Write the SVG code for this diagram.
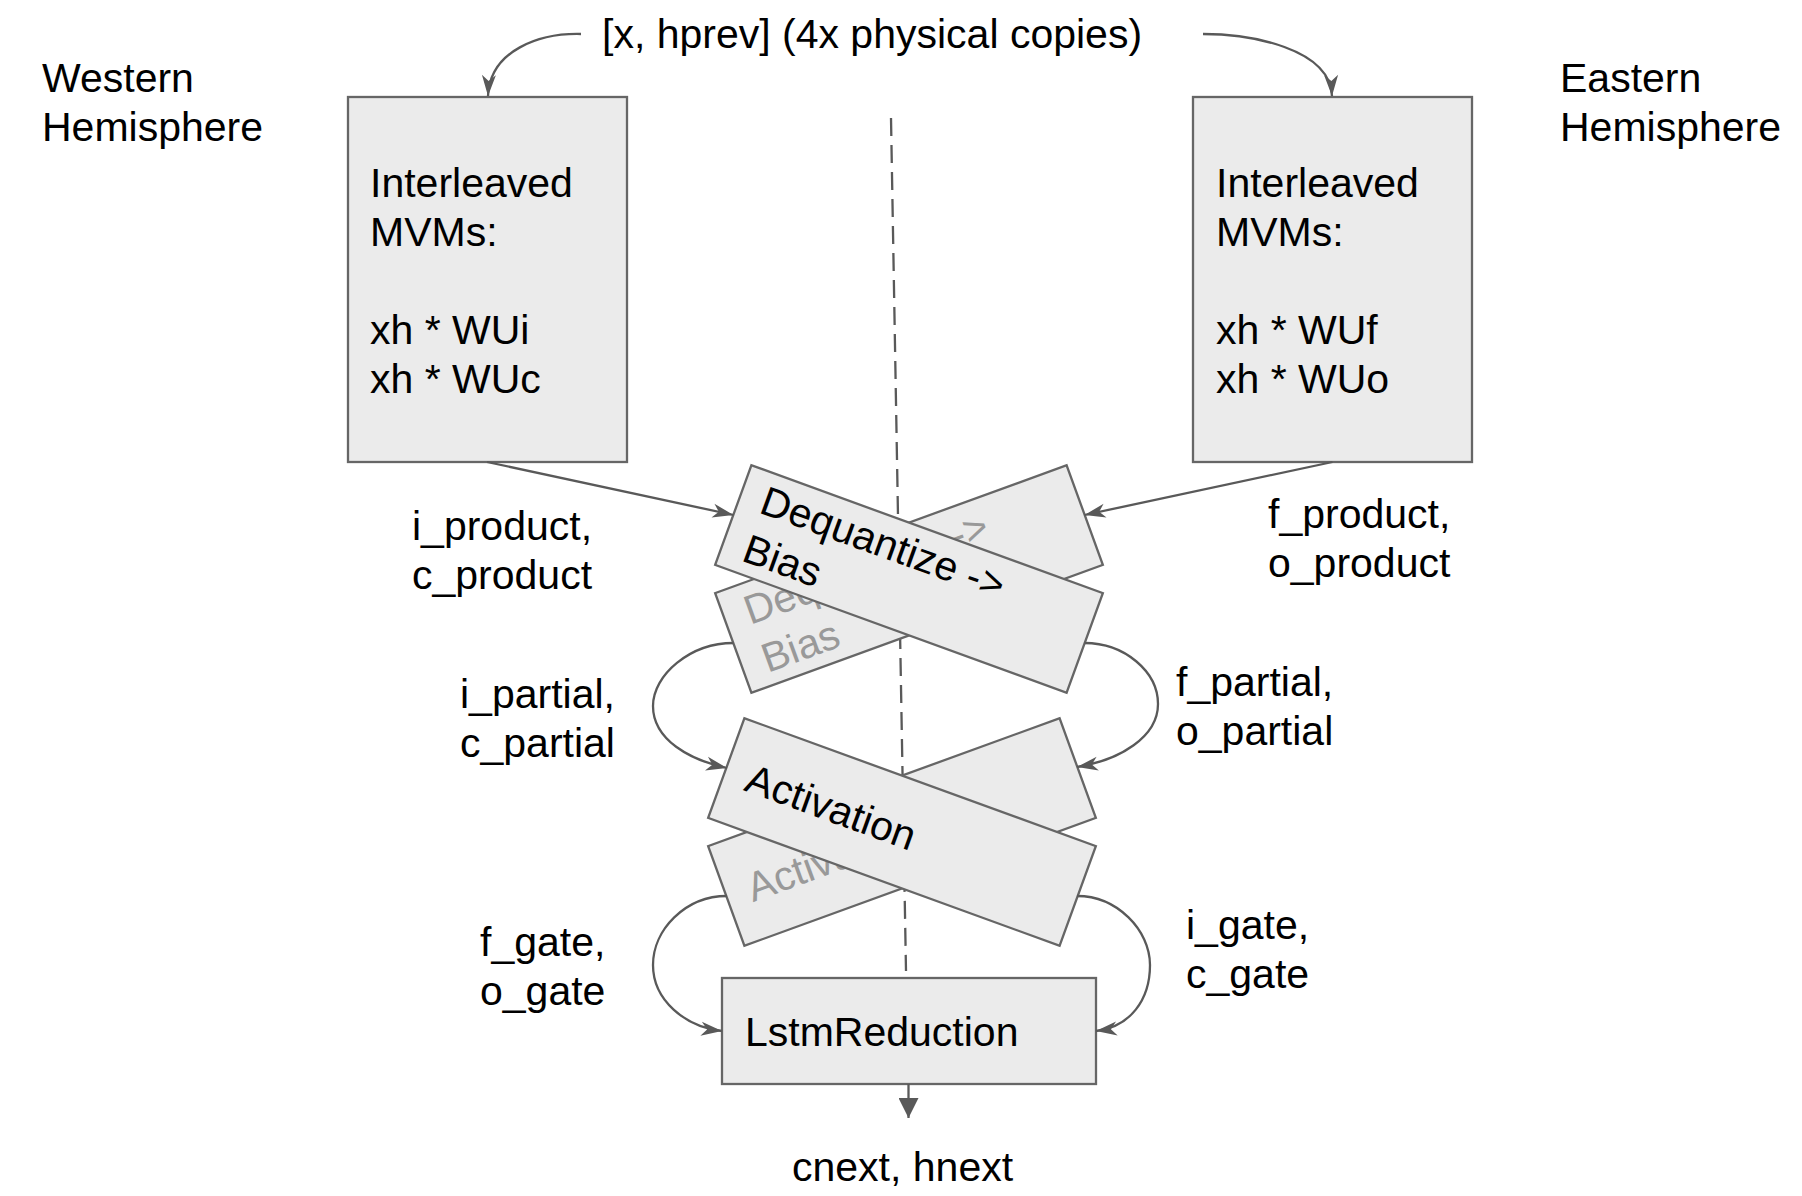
<svg xmlns="http://www.w3.org/2000/svg" width="1802" height="1196" viewBox="0 0 1802 1196">
<style>
text { font-family: "Liberation Sans", Arial, sans-serif; font-size: 41px; fill: #000; }
.box { fill: #ebebeb; stroke: #666666; stroke-width: 2.3; }
.ghost { fill: #999999; }
.conn { fill: none; stroke: #595959; stroke-width: 2.3; }
.dash { fill: none; stroke: #595959; stroke-width: 2.3; stroke-dasharray: 18 9; }
</style>
<defs>
<marker id="arr" markerWidth="24" markerHeight="18" refX="22" refY="9" orient="auto" markerUnits="userSpaceOnUse">
<path d="M1,2 L22,9 L1,16 L7,9 Z" fill="#595959"/>
</marker>
<marker id="tri" markerWidth="20" markerHeight="20" refX="20" refY="10" orient="auto" markerUnits="userSpaceOnUse">
<path d="M0,0 L20,10 L0,20 Z" fill="#595959"/>
</marker>
</defs>
<rect width="1802" height="1196" fill="#ffffff"/>

<g id="divider">
<line class="dash" x1="891" y1="118" x2="906" y2="971"/>
</g>

<g id="labels">
<text x="602" y="48">[x, hprev] (4x physical copies)</text>
<text x="42" y="92">Western</text>
<text x="42" y="141">Hemisphere</text>
<text x="1560" y="92">Eastern</text>
<text x="1560" y="141">Hemisphere</text>
<text x="412" y="540">i_product,</text>
<text x="412" y="589">c_product</text>
<text x="1268" y="528">f_product,</text>
<text x="1268" y="577">o_product</text>
<text x="460" y="708">i_partial,</text>
<text x="460" y="757">c_partial</text>
<text x="1176" y="696">f_partial,</text>
<text x="1176" y="745">o_partial</text>
<text x="480" y="956">f_gate,</text>
<text x="480" y="1005">o_gate</text>
<text x="1186" y="939">i_gate,</text>
<text x="1186" y="988">c_gate</text>
<text x="792" y="1181">cnext, hnext</text>
</g>

<g id="mvm-west">
<rect class="box" x="348" y="97" width="279" height="365"/>
<text x="370" y="197">Interleaved</text>
<text x="370" y="246">MVMs:</text>
<text x="370" y="344">xh * WUi</text>
<text x="370" y="393">xh * WUc</text>
</g>

<g id="mvm-east">
<rect class="box" x="1193" y="97" width="279" height="365"/>
<text x="1216" y="197">Interleaved</text>
<text x="1216" y="246">MVMs:</text>
<text x="1216" y="344">xh * WUf</text>
<text x="1216" y="393">xh * WUo</text>
</g>

<g id="dequant-east" transform="translate(909 579) rotate(-20)">
<rect class="box" x="-187" y="-53" width="374" height="106"/>
<text class="ghost" x="-165" y="-11">Dequantize -&gt;</text>
<text class="ghost" x="-165" y="40">Bias</text>
</g>
<g id="dequant-west" transform="translate(909 579) rotate(20)">
<rect class="box" x="-187" y="-53" width="374" height="106"/>
<text x="-165" y="-11">Dequantize -&gt;</text>
<text x="-165" y="40">Bias</text>
</g>

<g id="activation-east" transform="translate(902 832) rotate(-20)">
<rect class="box" x="-187" y="-53" width="374" height="106"/>
<text class="ghost" x="-164" y="15">Activation</text>
</g>
<g id="activation-west" transform="translate(902 832) rotate(20)">
<rect class="box" x="-187" y="-53" width="374" height="106"/>
<text x="-164" y="15">Activation</text>
</g>

<g id="lstm-reduction">
<rect class="box" x="722" y="978" width="374" height="106"/>
<text x="745" y="1046">LstmReduction</text>
</g>

<g id="connectors">
<path class="conn" marker-end="url(#arr)" d="M581,34 C540,33 490,50 488,96"/>
<path class="conn" marker-end="url(#arr)" d="M1203,34 C1250,34 1330,48 1332,96"/>
<path class="conn" marker-end="url(#arr)" d="M487,462 L733.5,515"/>
<path class="conn" marker-end="url(#arr)" d="M1332.5,462 L1084.5,515"/>
<path class="conn" marker-end="url(#arr)" d="M733.5,643 C690,643 653,675 653,706 C653,740 690,760 727,768"/>
<path class="conn" marker-end="url(#arr)" d="M1084.5,643 C1125,643 1158,672 1158,704 C1158,737 1120,760 1077,767"/>
<path class="conn" marker-end="url(#arr)" d="M727,896 C685,896 653,930 653,965 C653,1000 685,1027 722,1031"/>
<path class="conn" marker-end="url(#arr)" d="M1077,896 C1117,896 1150,930 1150,965 C1150,1000 1130,1027 1096,1031"/>
<path class="conn" marker-end="url(#tri)" d="M908.5,1084 L908.5,1118"/>
</g>
</svg>
